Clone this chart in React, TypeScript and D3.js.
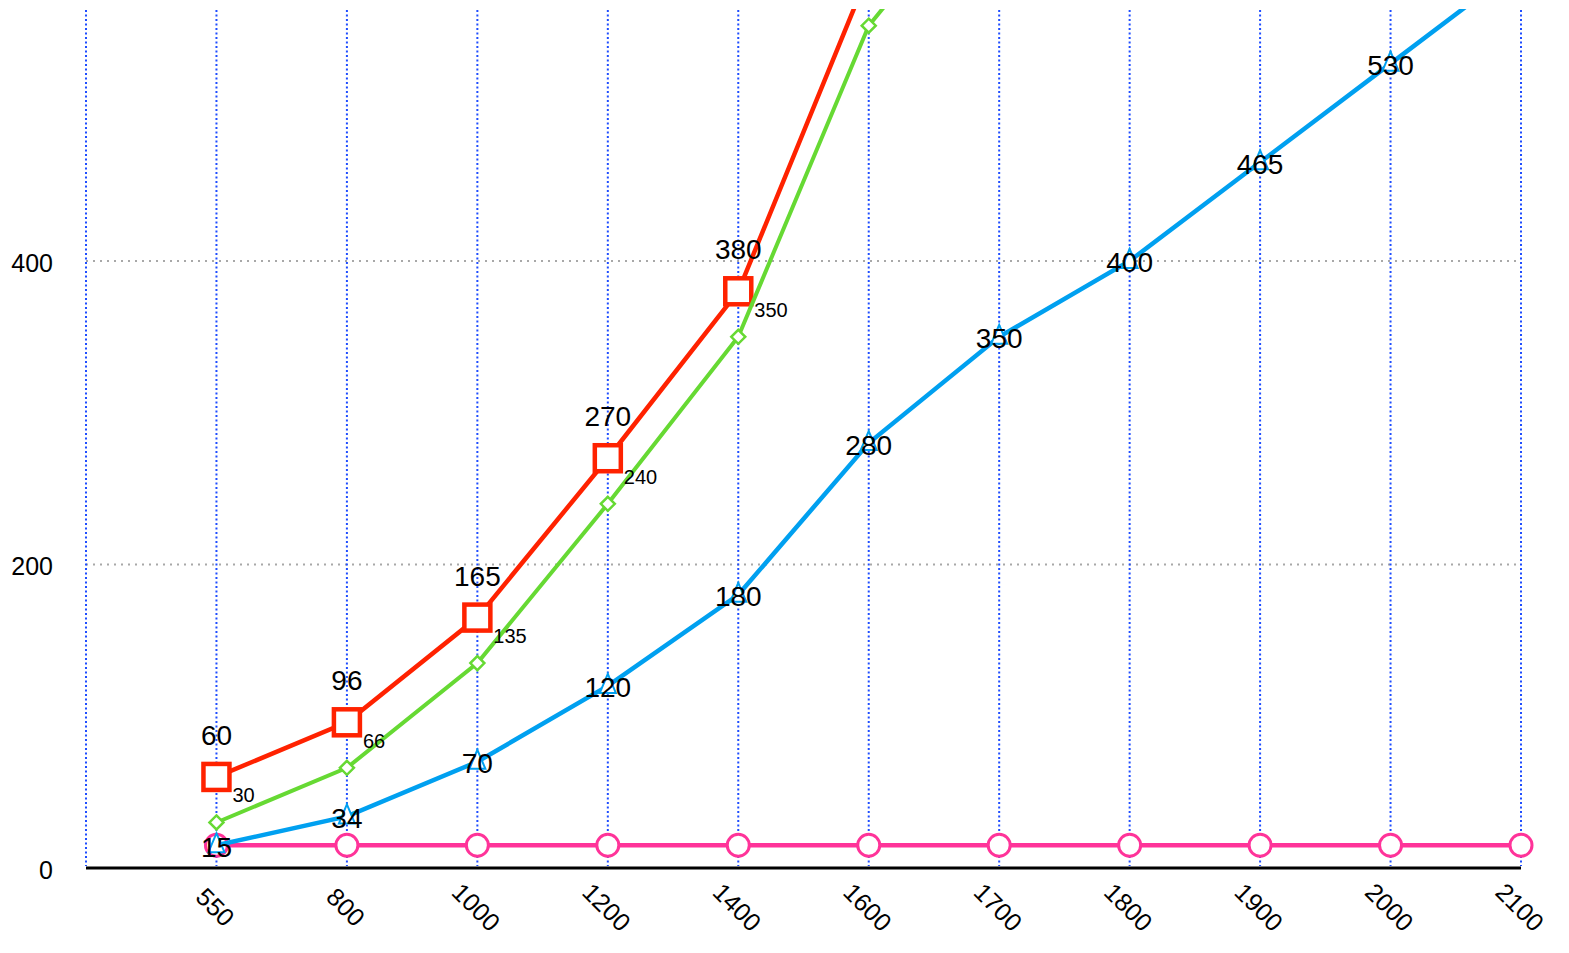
import React from "react";
import * as d3 from "d3";

const categories = ["550", "800", "1000", "1200", "1400", "1600", "1700", "1800", "1900", "2000", "2100"];
const redValues = [60, 96, 165, 270, 380, 590];
const greenValues = [30, 66, 135, 240, 350, 555, 660];
const blueValues = [15, 34, 70, 120, 180, 280, 350, 400, 465, 530, 595];
const pinkValues = [15, 15, 15, 15, 15, 15, 15, 15, 15, 15, 15];
const yTicks = [0, 200, 400];

const W = 1569;
const H = 953;
const TOP = 9;
const FONT = "'Liberation Sans', Arial, Helvetica, sans-serif";

export default function App() {
  const x = d3.scalePoint<string>().domain(["", ...categories]).range([86, 1521]);
  const y = d3.scaleLinear().domain([0, 566]).range([868, TOP]);

  const pts = (vals: number[]) => vals.map((v, i) => [x(categories[i]) as number, y(v)] as [number, number]);
  const line = d3.line<[number, number]>();

  const red = pts(redValues);
  const green = pts(greenValues);
  const blue = pts(blueValues);
  const pink = pts(pinkValues);

  const RED = "#ff2200";
  const GREEN = "#66d933";
  const BLUE = "#00a0f0";
  const PINK = "#ff3399";

  const visible = (py: number) => py > TOP + 20;

  return (
    <svg width={W} height={H} style={{ position: "absolute", left: 0, top: 0, background: "#fff" }} fontFamily={FONT}>
      <defs>
        <clipPath id="plotClip">
          <rect x={0} y={TOP} width={W} height={H - TOP} />
        </clipPath>
      </defs>
      {/* horizontal grid */}
      {yTicks.filter((t) => t > 0).map((t) => (
        <line key={"h" + t} x1={86} x2={1521} y1={y(t)} y2={y(t)} stroke="#a8a8a8" strokeWidth={2} strokeDasharray="2,5" />
      ))}
      {/* vertical grid */}
      {x.domain().map((c, i) => (
        <line key={"v" + i} x1={x(c)} x2={x(c)} y1={10} y2={866} stroke="#1f4dff" strokeWidth={2} strokeDasharray="2,2.5" />
      ))}
      {/* x axis */}
      <line x1={86} x2={1521} y1={y(0)} y2={y(0)} stroke="#000" strokeWidth={3} />
      {/* y labels */}
      {yTicks.map((t) => (
        <text key={"yl" + t} x={53} y={y(t) + 2} textAnchor="end" dominantBaseline="central" fontSize={25} fill="#000">
          {t}
        </text>
      ))}
      {/* x labels */}
      {categories.map((c) => (
        <text
          key={"xl" + c}
          transform={`translate(${(x(c) as number) - 1},907) rotate(45)`}
          textAnchor="middle"
          dominantBaseline="central"
          fontSize={25}
          fill="#000"
        >
          {c}
        </text>
      ))}
      <g clipPath="url(#plotClip)">
        {/* pink */}
        <path d={line(pink) || ""} fill="none" stroke={PINK} strokeWidth={4.5} />
        {pink.map(([px, py], i) => (
          <circle key={"pc" + i} cx={px} cy={py} r={11} fill="#fff" stroke={PINK} strokeWidth={3} />
        ))}
        {/* blue */}
        <path d={line(blue) || ""} fill="none" stroke={BLUE} strokeWidth={4.5} />
        {blue.map(([px, py], i) => (
          <path
            key={"bt" + i}
            d={`M${px},${py - 12} L${px + 8},${py + 7} L${px - 8},${py + 7} Z`}
            fill="#fff"
            stroke={BLUE}
            strokeWidth={2}
          />
        ))}
        {/* red */}
        <path d={line(red) || ""} fill="none" stroke={RED} strokeWidth={4.5} />
        {red.map(([px, py], i) => (
          <rect key={"rs" + i} x={px - 13} y={py - 13} width={26} height={26} fill="#fff" stroke={RED} strokeWidth={4.5} />
        ))}
        {/* green */}
        <path d={line(green) || ""} fill="none" stroke={GREEN} strokeWidth={4} />
        {green.map(([px, py], i) => (
          <path
            key={"gd" + i}
            d={`M${px},${py - 7} L${px + 7},${py} L${px},${py + 7} L${px - 7},${py} Z`}
            fill="#fff"
            stroke={GREEN}
            strokeWidth={2.5}
          />
        ))}
        {/* labels */}
        {blue.map(([px, py], i) =>
          visible(py) ? (
            <text key={"bl" + i} x={px} y={py + 2} textAnchor="middle" dominantBaseline="central" fontSize={28} fill="#000">
              {blueValues[i]}
            </text>
          ) : null
        )}
        {green.map(([px, py], i) =>
          visible(py - 20) ? (
            <text key={"gl" + i} x={px + 16} y={py - 20} textAnchor="start" fontSize={20} fill="#000">
              {greenValues[i]}
            </text>
          ) : null
        )}
        {red.map(([px, py], i) =>
          visible(py - 32) ? (
            <text key={"rl" + i} x={px} y={py - 32} textAnchor="middle" fontSize={28} fill="#000">
              {redValues[i]}
            </text>
          ) : null
        )}
      </g>
    </svg>
  );
}
